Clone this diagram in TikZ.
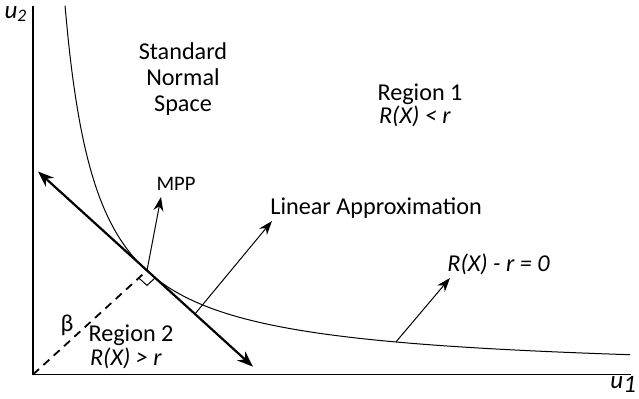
\documentclass[tikz,border=0pt]{standalone}
\usepackage{fontspec}
\setmainfont{Carlito}
\usetikzlibrary{arrows.meta,calc}

\tikzset{
  lbl/.style={font=\fontsize{12.1}{12.8}\selectfont, inner sep=0pt, align=center},
  pointer/.style={-{Stealth[length=7pt,width=5pt]}, line width=0.5pt},
}

\begin{document}
\begin{tikzpicture}[x=0.5pt,y=-0.5pt]
  \useasboundingbox (0,0) rectangle (639,399);

  \coordinate (O) at (33,374.5);
  \coordinate (Ytop) at (33,6);
  \coordinate (Xend) at (631,374.5);
  \coordinate (P) at (147,270.5);
  \coordinate (T1) at (38,171.5);
  \coordinate (T2) at (253,366.7);

  % Axes
  \draw[line width=0.65pt] (Ytop) -- (O) -- (Xend);
  \node[lbl, font=\fontsize{12.5}{13}\selectfont] (u2) at (16,14) {\textit{u\textsubscript{2}}};
  \node[lbl, font=\fontsize{12.5}{13}\selectfont, anchor=west] (u1) at (610,384) {\textit{u}\raisebox{-2pt}{\textit{1}}};

  % Limit state
  \draw[line width=0.5pt] plot[domain=32:597, samples=150, smooth] ({33+\x},{374.5-11800/\x});

  % Linear approximation
  \draw[{Stealth[length=8pt,width=6pt]}-{Stealth[length=8pt,width=6pt]}, line width=1.1pt] (T1) -- (T2);

  % Reliability index
  \draw[dashed, line width=0.9pt, dash pattern=on 4pt off 3pt] (O) -- (P);
  \coordinate (Ra) at ($(P)!0.072!(O)$);
  \coordinate (Rb) at ($(P)!0.077!(T2)$);
  \draw[line width=0.5pt] (Ra) -- ($(Ra)+(Rb)-(P)$) -- (Rb);
  \node[lbl] (beta) at (67,325) {β};

  % Pointers
  \coordinate (mppTip) at (161,197);
  \node[lbl, font=\fontsize{10.3}{11}\selectfont] (mpp) at (176,184) {MPP};
  \draw[pointer] (P) -- (mppTip);

  \coordinate (LAfoot) at ($(T1)!0.73!(T2)$);
  \coordinate (LAtip) at (272,221);
  \node[lbl, anchor=west] (LA) at (270,208) {Linear Approximation};
  \draw[pointer] (LAfoot) -- (LAtip);

  \coordinate (LSfoot) at (396,341.9);
  \coordinate (LStip) at (450,278);
  \node[lbl, anchor=west] (LS) at (447,264) {\textit{R(X) - r = 0}};
  \draw[pointer] (LSfoot) -- (LStip);

  % Regions
  \node[lbl] (space) at (183,79) {Standard\\Normal\\Space};
  \node[lbl] (reg1) at (420,94) {Region 1};
  \node[lbl] (reg1c) at (415,116) {\textit{R(X) < r}};
  \node[lbl] (reg2) at (131,335) {Region 2};
  \node[lbl] (reg2c) at (126,358) {\textit{R(X) > r}};

\end{tikzpicture}
\end{document}
